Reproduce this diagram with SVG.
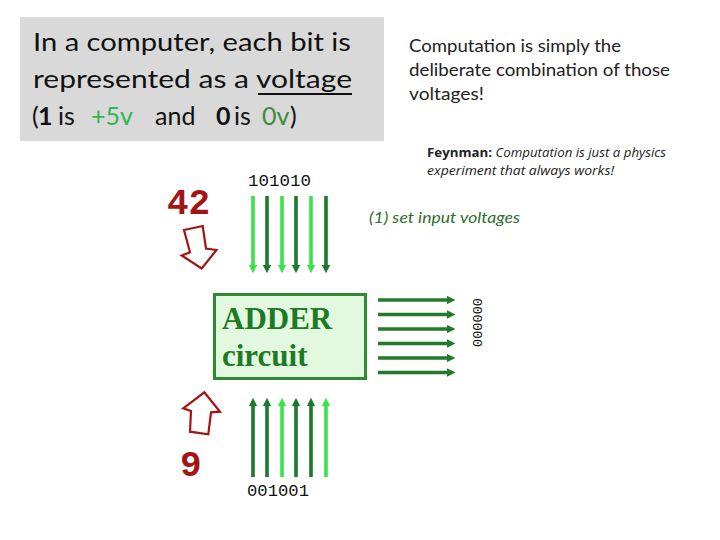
<svg xmlns="http://www.w3.org/2000/svg" width="720" height="540" viewBox="0 0 720 540">
<style>
.title{font-family:Lato,"Open Sans","Liberation Sans",sans-serif;font-size:25px;fill:#111}
.note{font-family:Lato,"Open Sans","Liberation Sans",sans-serif;font-size:16.5px;fill:#222}
.feyn{font-family:"Open Sans",Lato,"Liberation Sans",sans-serif;font-size:12.5px;fill:#222}
.mono{font-family:"Liberation Mono","DejaVu Sans Mono",monospace;font-size:17px;fill:#111}
.num{font-family:"Liberation Mono","DejaVu Sans Mono",monospace;font-size:36px;font-weight:bold;fill:#a31515}
.hollow{fill:none;stroke:#a31515;stroke-width:2.2;stroke-linejoin:miter}
.lt{stroke:#3be24a;stroke-width:3.6}
.dk{stroke:#1b7a2b;stroke-width:3.6}
.out{stroke:#237a2b;stroke-width:3.6}
</style>
<defs>
<marker id="hl" viewBox="0 0 10 10" refX="0" refY="5" markerWidth="2.3" markerHeight="2.3" orient="auto"><path d="M0,0 L10,5 L0,10 z" fill="#3be24a"/></marker>
<marker id="hd" viewBox="0 0 10 10" refX="0" refY="5" markerWidth="2.3" markerHeight="2.3" orient="auto"><path d="M0,0 L10,5 L0,10 z" fill="#1b7a2b"/></marker>
<marker id="ho" viewBox="0 0 10 10" refX="0" refY="5" markerWidth="2.3" markerHeight="2.3" orient="auto"><path d="M0,0 L10,5 L0,10 z" fill="#237a2b"/></marker>
</defs>
<rect width="720" height="540" fill="#fff"/>

<g id="title">
<rect x="20" y="17" width="364" height="124" fill="#d9d9d9"/>
<text class="title" x="33" y="51" textLength="318" lengthAdjust="spacingAndGlyphs">In a computer, each bit is</text>
<text class="title" x="33" y="88" textLength="319" lengthAdjust="spacingAndGlyphs">represented as a voltage</text>
<line x1="258" y1="94" x2="352" y2="94" stroke="#111" stroke-width="1.8"/>
<text class="title" y="125"><tspan x="32">(</tspan><tspan x="38" font-weight="bold">1</tspan><tspan x="58">is</tspan><tspan x="91" fill="#2fb84e">+5v</tspan><tspan x="155">and</tspan><tspan x="216" font-weight="bold">0</tspan><tspan x="234">is</tspan><tspan x="262" fill="#3d8c3a">0v</tspan><tspan x="290">)</tspan></text>
</g>

<g id="note">
<text class="note" x="409" y="52" textLength="212" lengthAdjust="spacingAndGlyphs">Computation is simply the</text>
<text class="note" x="409" y="76" textLength="261" lengthAdjust="spacingAndGlyphs">deliberate combination of those</text>
<text class="note" x="409" y="100" textLength="75" lengthAdjust="spacingAndGlyphs">voltages!</text>
</g>

<g id="feynman">
<text class="feyn" x="427" y="157" textLength="239" lengthAdjust="spacingAndGlyphs"><tspan font-weight="bold">Feynman:</tspan> <tspan font-style="italic">Computation is just a physics</tspan></text>
<text class="feyn" x="427" y="175" font-style="italic" textLength="187" lengthAdjust="spacingAndGlyphs">experiment that always works!</text>
</g>

<g id="step1">
<text x="369" y="223" font-family="Lato,'Open Sans','Liberation Sans',sans-serif" font-size="15" font-style="italic" fill="#2e6e2e" textLength="151" lengthAdjust="spacingAndGlyphs">(1) set input voltages</text>
</g>

<g id="input42">
<text class="num" x="167" y="214">42</text>
<polygon class="hollow" points="184,230 202.7,226 206,248.5 216.5,250 201.7,268.5 181.7,255.5 190,252.3"/>
<text class="mono" x="248" y="186" textLength="63" lengthAdjust="spacingAndGlyphs">101010</text>
</g>

<g id="input9">
<text class="num" x="180" y="476">9</text>
<polygon class="hollow" points="204.3,392.3 220,411.7 211,412.3 208.3,434.3 190,431.7 191,411 183.3,408.3"/>
<text class="mono" x="247" y="496" textLength="62" lengthAdjust="spacingAndGlyphs">001001</text>
</g>

<g id="adder">
<rect x="214.5" y="294.5" width="151" height="84" fill="#e2f9df" stroke="#2e8b32" stroke-width="3"/>
<text x="222" y="329" font-family="'Liberation Serif','Times New Roman',serif" font-size="31" font-weight="bold" fill="#1e7a24">ADDER</text>
<text x="222" y="366" font-family="'Liberation Serif','Times New Roman',serif" font-size="31" font-weight="bold" fill="#1e7a24">circuit</text>
</g>

<g id="output">
<text transform="translate(482,347) rotate(-90)" font-family="'Liberation Mono','DejaVu Sans Mono',monospace" font-size="13.5" fill="#111" textLength="49" lengthAdjust="spacingAndGlyphs">000000</text>
</g>

<g id="connectors">
<line class="lt" x1="253" y1="196" x2="253" y2="265" marker-end="url(#hl)"/>
<line class="dk" x1="267" y1="196" x2="267" y2="265" marker-end="url(#hd)"/>
<line class="lt" x1="282" y1="196" x2="282" y2="265" marker-end="url(#hl)"/>
<line class="dk" x1="296" y1="196" x2="296" y2="265" marker-end="url(#hd)"/>
<line class="lt" x1="311" y1="196" x2="311" y2="265" marker-end="url(#hl)"/>
<line class="dk" x1="326" y1="196" x2="326" y2="265" marker-end="url(#hd)"/>

<line class="dk" x1="253" y1="477" x2="253" y2="406" marker-end="url(#hd)"/>
<line class="dk" x1="267" y1="477" x2="267" y2="406" marker-end="url(#hd)"/>
<line class="lt" x1="282" y1="477" x2="282" y2="406" marker-end="url(#hl)"/>
<line class="dk" x1="296" y1="477" x2="296" y2="406" marker-end="url(#hd)"/>
<line class="dk" x1="311" y1="477" x2="311" y2="406" marker-end="url(#hd)"/>
<line class="lt" x1="326" y1="477" x2="326" y2="406" marker-end="url(#hl)"/>

<line class="out" x1="378" y1="300" x2="447" y2="300" marker-end="url(#ho)"/>
<line class="out" x1="378" y1="314.5" x2="447" y2="314.5" marker-end="url(#ho)"/>
<line class="out" x1="378" y1="329" x2="447" y2="329" marker-end="url(#ho)"/>
<line class="out" x1="378" y1="343.5" x2="447" y2="343.5" marker-end="url(#ho)"/>
<line class="out" x1="378" y1="358" x2="447" y2="358" marker-end="url(#ho)"/>
<line class="out" x1="378" y1="372.5" x2="447" y2="372.5" marker-end="url(#ho)"/>
</g>
</svg>
